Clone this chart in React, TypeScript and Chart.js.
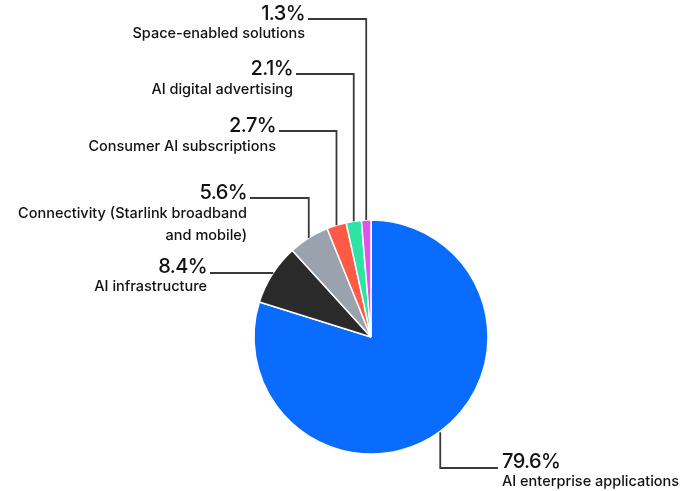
import React, { useEffect, useRef } from "react";
import { Chart, registerables } from "chart.js";

Chart.register(...registerables);

const categories = [
  "AI enterprise applications",
  "AI infrastructure",
  "Connectivity (Starlink broadband and mobile)",
  "Consumer AI subscriptions",
  "AI digital advertising",
  "Space-enabled solutions",
];
const values = [79.6, 8.4, 5.6, 2.7, 2.1, 1.3];
const pctLabels = ["79.6%", "8.4%", "5.6%", "2.7%", "2.1%", "1.3%"];
const nameLines = [
  ["AI enterprise applications"],
  ["AI infrastructure"],
  ["Connectivity (Starlink broadband", "and mobile)"],
  ["Consumer AI subscriptions"],
  ["AI digital advertising"],
  ["Space-enabled solutions"],
];
const colors = ["#0a6cff", "#2a2a2a", "#9aa3ad", "#ff5a45", "#2ee3a5", "#de55e8"];

// label layout: side, text anchor x, percent baseline, leader y, first name baseline
const layout = [
  { side: "right", x: 502, pctY: 468, lineY: 468, nameY: 486 },
  { side: "left", x: 207, pctY: 273, lineY: 273, nameY: 291 },
  { side: "left", x: 247, pctY: 199, lineY: 198, nameY: 218 },
  { side: "left", x: 276, pctY: 132, lineY: 131, nameY: 151 },
  { side: "left", x: 293, pctY: 75, lineY: 74, nameY: 94 },
  { side: "left", x: 305, pctY: 20, lineY: 19, nameY: 38 },
];

const leaderPlugin = {
  id: "leaders",
  afterDraw(chart: any) {
    const ctx = chart.ctx as CanvasRenderingContext2D;
    const meta = chart.getDatasetMeta(0);
    ctx.save();
    meta.data.forEach((arc: any, i: number) => {
      const L = layout[i];
      const mid = (arc.startAngle + arc.endAngle) / 2;
      const px = arc.x + Math.cos(mid) * arc.outerRadius;
      const py = arc.y + Math.sin(mid) * arc.outerRadius;
      ctx.strokeStyle = "#3a3a3a";
      ctx.lineWidth = 1.8;
      ctx.beginPath();
      if (L.side === "left") {
        ctx.moveTo(L.x + 3, L.lineY);
        ctx.lineTo(px, L.lineY);
        ctx.lineTo(px, py);
      } else {
        ctx.moveTo(px, py + 1);
        ctx.lineTo(px, L.lineY);
        ctx.lineTo(L.x - 4, L.lineY);
      }
      ctx.stroke();

      ctx.fillStyle = "#111111";
      ctx.textAlign = L.side === "left" ? "right" : "left";
      ctx.textBaseline = "alphabetic";
      (ctx as any).letterSpacing = "-0.6px";
      ctx.font = "500 20px Inter, 'Liberation Sans', sans-serif";
      ctx.fillText(pctLabels[i], L.x, L.pctY);
      (ctx as any).letterSpacing = "0px";
      ctx.font = "500 14.5px Inter, 'Liberation Sans', sans-serif";
      nameLines[i].forEach((t, k) => {
        ctx.fillText(t, L.x, L.nameY + k * 22);
      });
    });
    ctx.restore();
  },
};

export default function App() {
  const ref = useRef<HTMLCanvasElement>(null);
  useEffect(() => {
    if (!ref.current) return;
    const chart = new Chart(ref.current, {
      type: "pie",
      data: {
        labels: categories,
        datasets: [
          {
            data: values,
            backgroundColor: colors,
            borderColor: "#ffffff",
            borderWidth: 1.5,
          },
        ],
      },
      options: {
        responsive: false,
        animation: false,
        radius: 117,
        layout: { padding: { left: 254, right: 209, top: 220, bottom: 37 } },
        plugins: {
          legend: { display: false },
          tooltip: { enabled: false },
        },
      } as any,
      plugins: [leaderPlugin],
    });
    return () => chart.destroy();
  }, []);
  return (
    <div style={{ position: "fixed", left: 0, top: 0, width: 697, height: 491, background: "#fff" }}>
      <canvas ref={ref} width={697} height={491} style={{ width: 697, height: 491 }} />
    </div>
  );
}
